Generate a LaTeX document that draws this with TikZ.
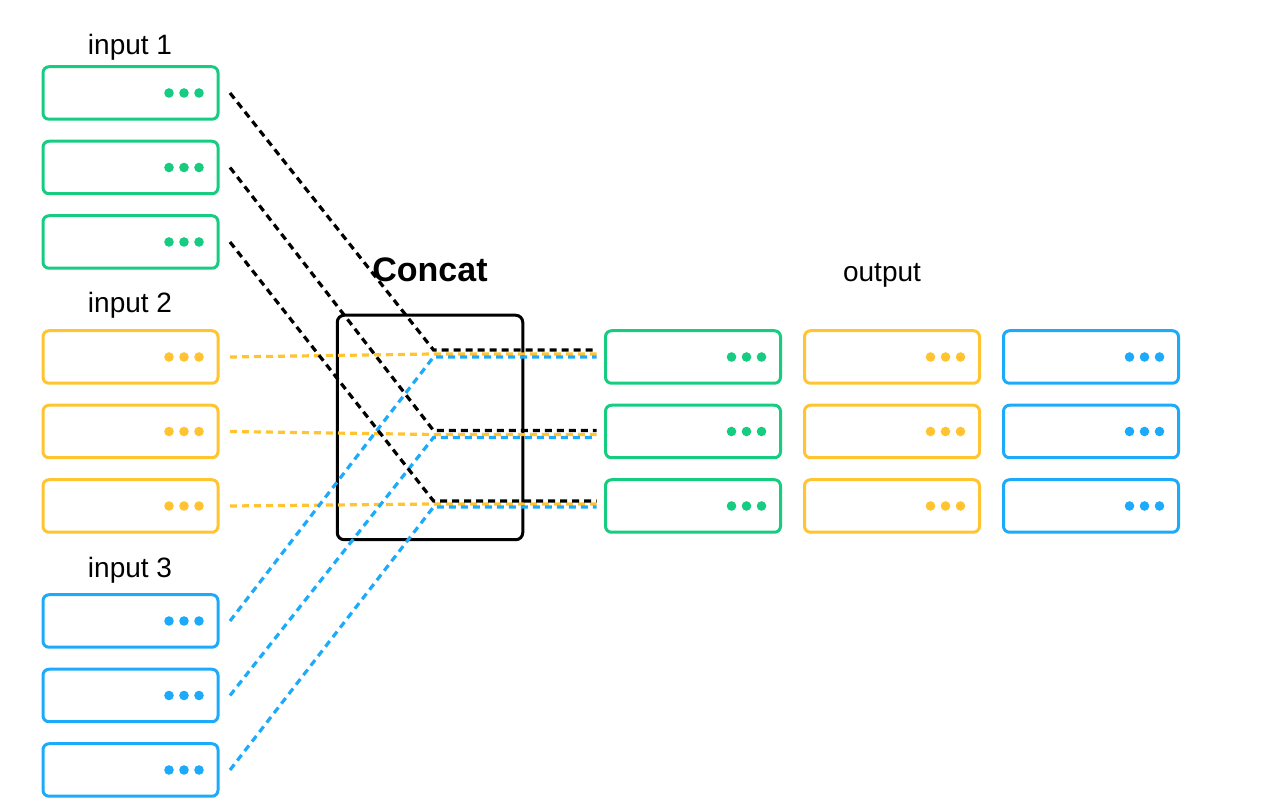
\documentclass[tikz,border=0pt]{standalone}
\usepackage{fontspec}
\setmainfont{Liberation Sans}
\usetikzlibrary{positioning}

\definecolor{inGreen}{RGB}{22,204,128}
\definecolor{inYellow}{RGB}{255,196,48}
\definecolor{inBlue}{RGB}{30,170,250}

\begin{document}
\begin{tikzpicture}[x=1pt,y=1pt,node distance=22pt,
    box node/.style={rectangle,draw=#1,rounded corners=6pt,line width=3pt,
      minimum width=175pt,minimum height=52.5pt,inner sep=0pt,outer sep=0pt,
      path picture={\foreach \k in {19,34,49}
        \fill[#1] ([xshift=-\k pt]path picture bounding box.east) circle (4.8pt);}},
    green node/.style={box node=inGreen},
    yellow node/.style={box node=inYellow},
    blue node/.style={box node=inBlue},
    label node/.style={anchor=base,font=\fontsize{28}{32}\selectfont},
    link/.style={line width=3.2pt,dash pattern=on 7pt off 5pt}]
  \useasboundingbox (0,0) rectangle (1280,810);

  % inputs
  \node[green node] (a1) at (130.5,717) {};
  \node[green node] (a2) [below=of a1] {};
  \node[green node] (a3) [below=of a2] {};
  \node[yellow node] (b1) [below=62.5pt of a3] {};
  \node[yellow node] (b2) [below=of b1] {};
  \node[yellow node] (b3) [below=of b2] {};
  \node[blue node] (c1) [below=62.5pt of b3] {};
  \node[blue node] (c2) [below=of c1] {};
  \node[blue node] (c3) [below=of c2] {};

  % outputs
  \node[green node] (o1) at (693,453) {};
  \node[green node] (o2) [below=of o1] {};
  \node[green node] (o3) [below=of o2] {};
  \node[yellow node] (p1) [right=24pt of o1] {};
  \node[yellow node] (p2) [right=24pt of o2] {};
  \node[yellow node] (p3) [right=24pt of o3] {};
  \node[blue node] (q1) [right=24pt of p1] {};
  \node[blue node] (q2) [right=24pt of p2] {};
  \node[blue node] (q3) [right=24pt of p3] {};

  \node[draw,rounded corners=7pt,line width=3pt,minimum width=185.5pt,
        minimum height=224.5pt] (concat) at (430,382.5) {};

  \node[label node] (in1) at (130,755) {input 1};
  \node[label node] (in2) at (130,497) {input 2};
  \node[label node] (in3) at (130,232) {input 3};
  \node[label node,font=\fontsize{34}{38}\selectfont\bfseries] (cc) at (430,528) {Concat};
  \node[label node] (out) at (882,528) {output};

  % junctions
  \coordinate (j1) at ([xshift=-172pt]o1.west);
  \coordinate (j2) at ([xshift=-172pt]o2.west);
  \coordinate (j3) at ([xshift=-172pt]o3.west);

  \draw[link,inYellow] ([xshift=12pt]b1.east) -- ([yshift=3pt]j1) -- ([xshift=-9pt,yshift=3pt]o1.west);
  \draw[link,inYellow] ([xshift=12pt]b2.east) -- ([yshift=-3pt]j2) -- ([xshift=-9pt,yshift=-3pt]o2.west);
  \draw[link,inYellow] ([xshift=12pt]b3.east) -- ([yshift=2pt]j3) -- ([xshift=-9pt,yshift=2pt]o3.west);
  \draw[link,inBlue] ([xshift=12pt]c1.east) -- (j1) -- ([xshift=-9pt]o1.west);
  \draw[link,inBlue] ([xshift=12pt]c2.east) -- ([yshift=-6pt]j2) -- ([xshift=-9pt,yshift=-6pt]o2.west);
  \draw[link,inBlue] ([xshift=12pt]c3.east) -- ([yshift=-1pt]j3) -- ([xshift=-9pt,yshift=-1pt]o3.west);
  \draw[link] ([xshift=12pt]a1.east) -- ([yshift=7pt]j1) -- ([xshift=-9pt,yshift=7pt]o1.west);
  \draw[link] ([xshift=12pt]a2.east) -- ([yshift=1pt]j2) -- ([xshift=-9pt,yshift=1pt]o2.west);
  \draw[link] ([xshift=12pt]a3.east) -- ([yshift=5pt]j3) -- ([xshift=-9pt,yshift=5pt]o3.west);
\end{tikzpicture}
\end{document}
